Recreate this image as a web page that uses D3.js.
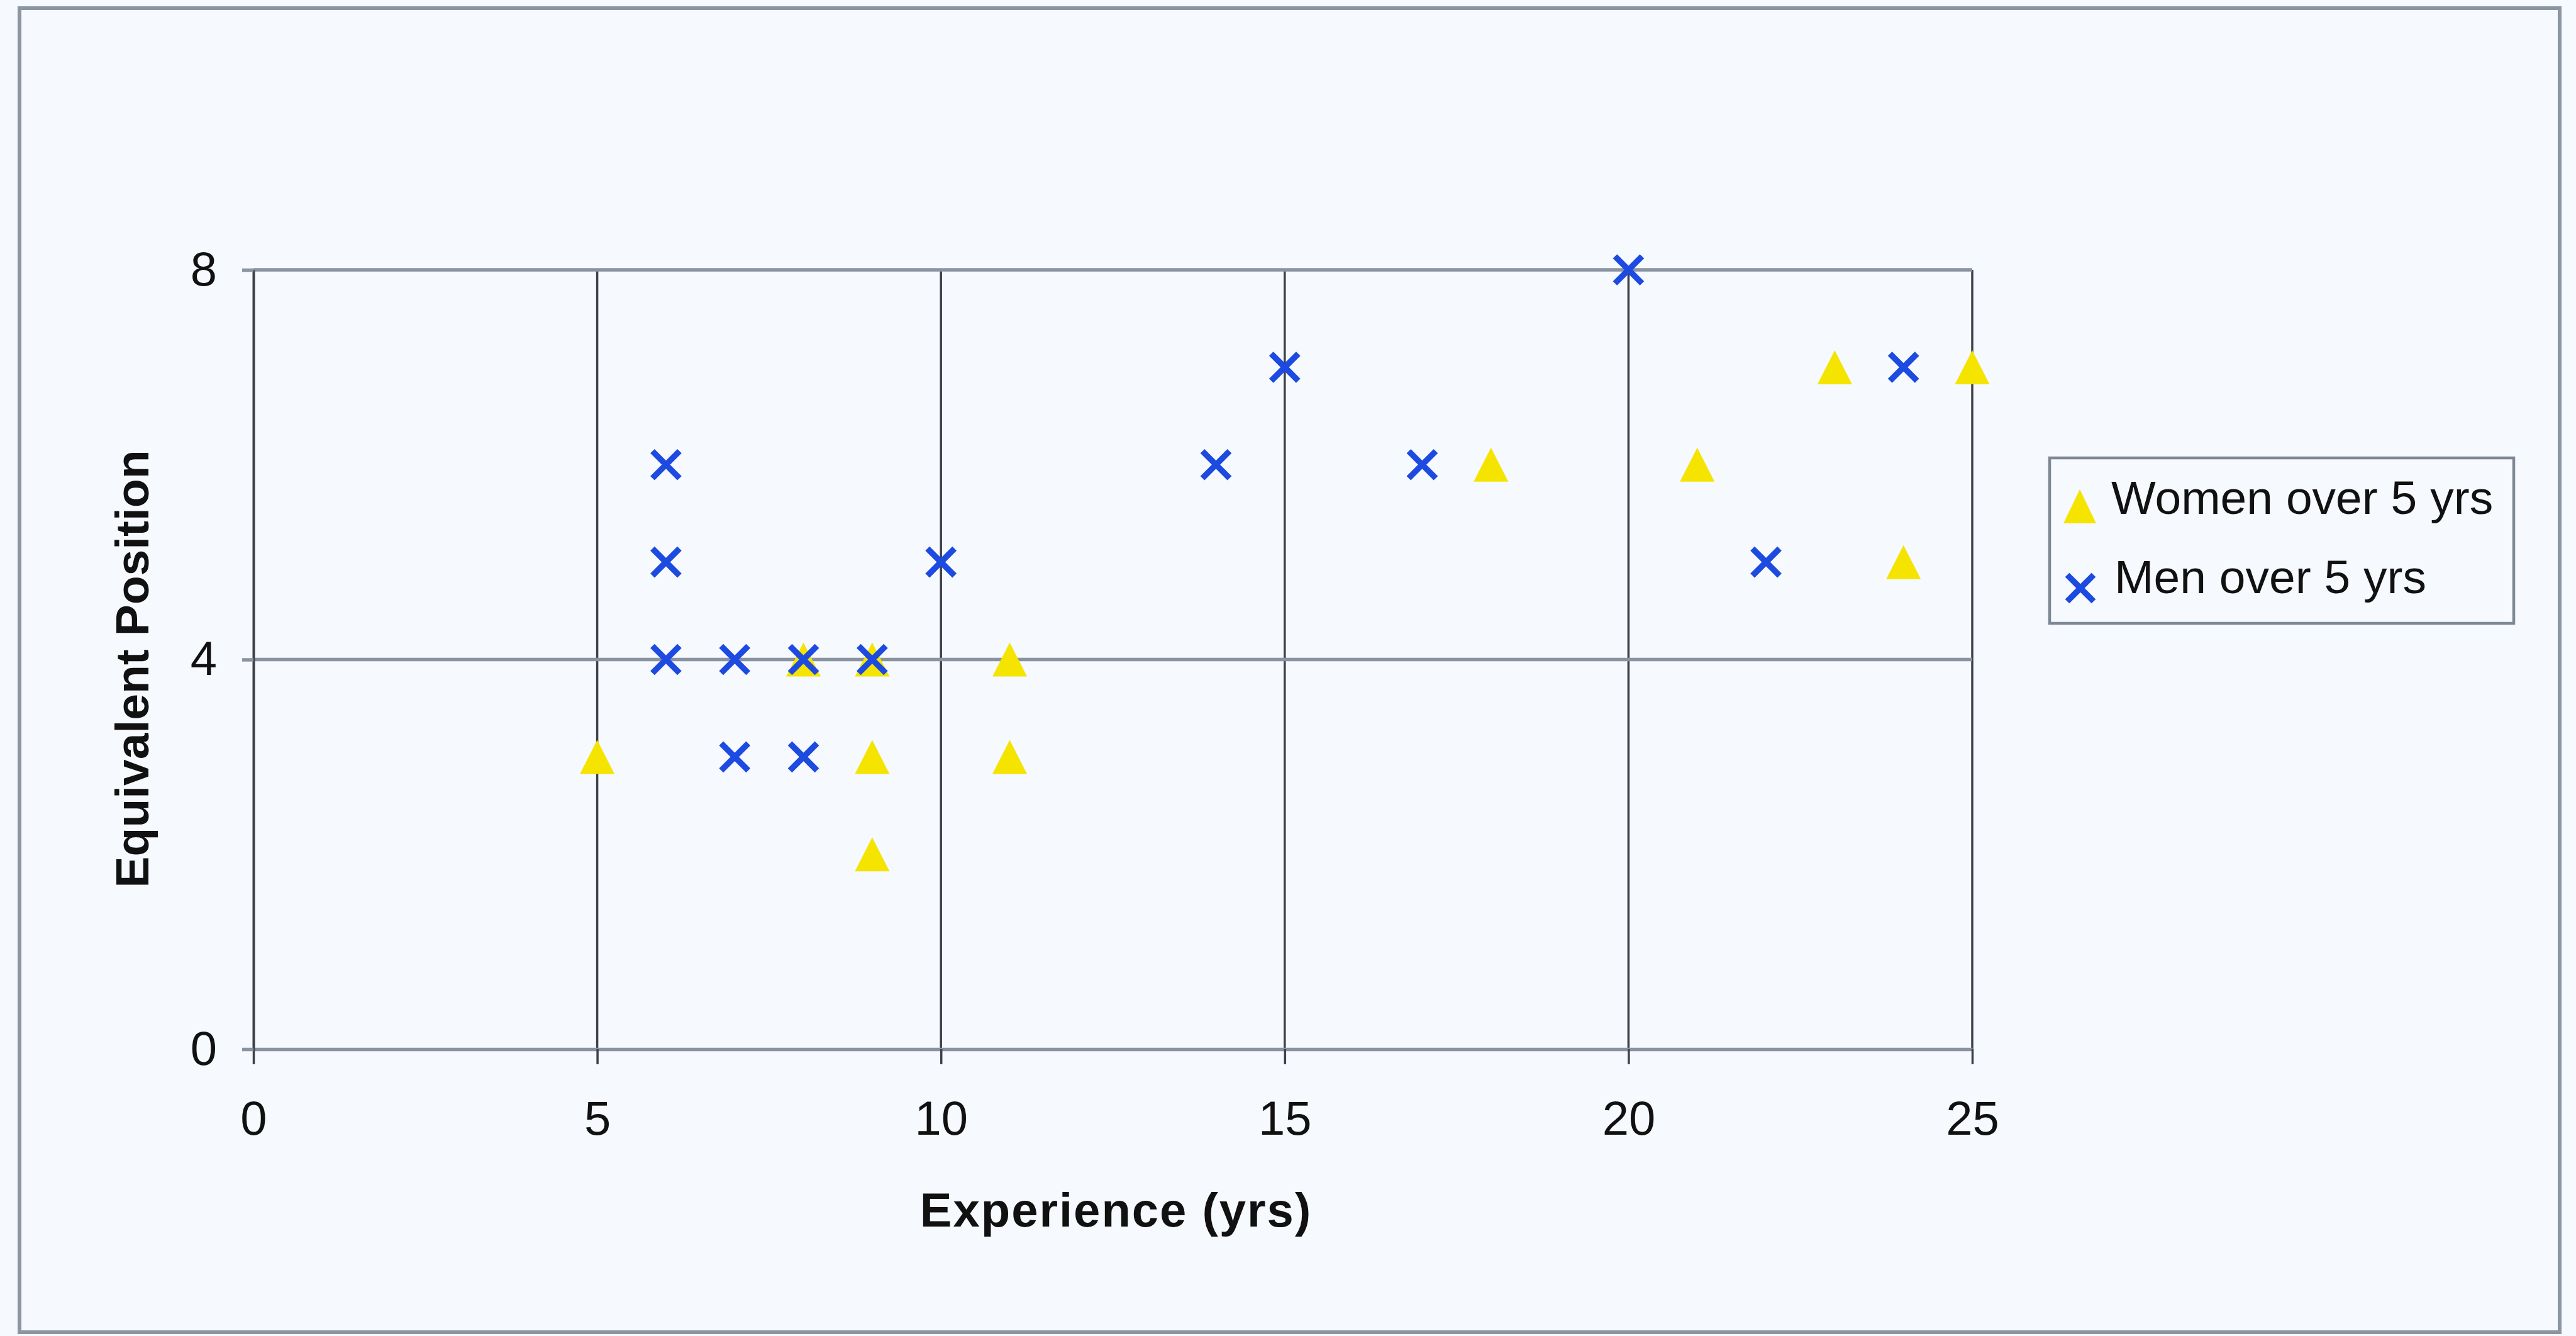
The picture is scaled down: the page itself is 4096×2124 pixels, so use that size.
<!DOCTYPE html>
<html>
<head>
<meta charset="utf-8">
<script src="https://cdn.jsdelivr.net/npm/d3@7"></script>
<style>
  html, body { margin: 0; padding: 0; background: #f6f9fd; }
  svg { display: block; }
  text { font-family: "Liberation Sans", Arial, sans-serif; fill: #111; }
</style>
</head>
<body>
<svg id="chart" width="4096" height="2124"></svg>
<script>
// Experience (years) vs equivalent position, by group
const womenExperience = [5, 8, 9, 9, 9, 11, 11, 18, 21, 23, 24, 25];
const womenPosition   = [3, 4, 4, 3, 2, 4, 3, 6, 6, 7, 5, 7];
const menExperience   = [6, 6, 6, 7, 8, 9, 7, 8, 10, 14, 15, 17, 20, 22, 24];
const menPosition     = [6, 5, 4, 4, 4, 4, 3, 3, 5, 6, 7, 6, 8, 5, 7];
const xTickValues = [0, 5, 10, 15, 20, 25];
const yTickValues = [0, 4, 8];
const seriesNames = ["Women over 5 yrs", "Men over 5 yrs"];
const xTitle = "Experience (yrs)";
const yTitle = "Equivalent Position";

const W = 4096, H = 2124;
const plot = { left: 403, right: 3136, top: 429, bottom: 1668 };
const triColor = "#f4e400";
const xColor = "#1d4ae0";
const hLineColor = "#8a94a2";
const vLineColor = "#3c4048";

const svg = d3.select("#chart");

svg.append("rect")
  .attr("x", 0).attr("y", 0).attr("width", W).attr("height", H)
  .attr("fill", "#f6f9fd");

// chart frame
svg.append("rect")
  .attr("x", 31).attr("y", 13).attr("width", 4039).attr("height", 2105)
  .attr("fill", "none").attr("stroke", "#8c95a2").attr("stroke-width", 6);

const x = d3.scaleLinear().domain([0, 25]).range([plot.left, plot.right]);
const y = d3.scaleLinear().domain([0, 8]).range([plot.bottom, plot.top]);

// gridlines
svg.append("g").selectAll("line")
  .data(xTickValues.filter(d => d > 0))
  .join("line")
  .attr("x1", d => x(d)).attr("x2", d => x(d))
  .attr("y1", y(8)).attr("y2", y(0))
  .attr("stroke", vLineColor).attr("stroke-width", 3.5);

svg.append("g").selectAll("line")
  .data(yTickValues.filter(d => d > 0))
  .join("line")
  .attr("x1", x(0)).attr("x2", x(25))
  .attr("y1", d => y(d)).attr("y2", d => y(d))
  .attr("stroke", hLineColor).attr("stroke-width", 5.5);

// axes
const xAxis = svg.append("g")
  .attr("transform", `translate(0,${plot.bottom})`)
  .call(d3.axisBottom(x).tickValues(xTickValues).tickSize(24).tickSizeOuter(0).tickPadding(58));
xAxis.select(".domain").attr("stroke", hLineColor).attr("stroke-width", 5.5);
xAxis.selectAll(".tick line").attr("stroke", vLineColor).attr("stroke-width", 3.5);
xAxis.selectAll(".tick text")
  .attr("font-size", 76).attr("font-family", "Liberation Sans, Arial, sans-serif").attr("fill", "#111");

const yAxis = svg.append("g")
  .attr("transform", `translate(${plot.left},0)`)
  .call(d3.axisLeft(y).tickValues(yTickValues).tickSize(18).tickSizeOuter(0).tickPadding(40));
yAxis.select(".domain").attr("stroke", vLineColor).attr("stroke-width", 4);
yAxis.selectAll(".tick line").attr("stroke", hLineColor).attr("stroke-width", 5.5);
yAxis.selectAll(".tick text")
  .attr("font-size", 76).attr("font-family", "Liberation Sans, Arial, sans-serif").attr("fill", "#111");

// axis titles
svg.append("text")
  .attr("x", (plot.left + plot.right) / 2 + 5).attr("y", 1950)
  .attr("text-anchor", "middle").attr("font-size", 76).attr("font-weight", "bold")
  .attr("letter-spacing", 2)
  .text(xTitle);

svg.append("text")
  .attr("transform", `translate(236,${(plot.top + plot.bottom) / 2 + 15}) rotate(-90)`)
  .attr("text-anchor", "middle").attr("font-size", 75).attr("font-weight", "bold")
  .text(yTitle);

// marker shapes
const triPath = (cx, cy, w, h) =>
  `M${cx},${cy - h / 2}L${cx + w / 2},${cy + h / 2}L${cx - w / 2},${cy + h / 2}Z`;
const crossPath = (cx, cy, r) =>
  `M${cx - r},${cy - r}L${cx + r},${cy + r}M${cx + r},${cy - r}L${cx - r},${cy + r}`;

const women = womenExperience.map((e, i) => ({ e, p: womenPosition[i] }));
const men = menExperience.map((e, i) => ({ e, p: menPosition[i] }));

svg.append("g").selectAll("path")
  .data(women)
  .join("path")
  .attr("d", d => triPath(x(d.e), y(d.p), 55, 54))
  .attr("fill", triColor);

svg.append("g").selectAll("path")
  .data(men)
  .join("path")
  .attr("d", d => crossPath(x(d.e), y(d.p), 21.5))
  .attr("fill", "none").attr("stroke", xColor).attr("stroke-width", 9.5);

// legend
const legend = svg.append("g");
legend.append("rect")
  .attr("x", 3259).attr("y", 728).attr("width", 738).attr("height", 263)
  .attr("fill", "none").attr("stroke", "#7e8794").attr("stroke-width", 4.5);

legend.append("path").attr("d", triPath(3307, 805, 52, 54)).attr("fill", triColor);
legend.append("text").attr("x", 3357).attr("y", 817).attr("font-size", 75).text(seriesNames[0]);

legend.append("path").attr("d", crossPath(3308, 935, 21))
  .attr("fill", "none").attr("stroke", xColor).attr("stroke-width", 9.5);
legend.append("text").attr("x", 3362).attr("y", 943).attr("font-size", 75).text(seriesNames[1]);
</script>
</body>
</html>
